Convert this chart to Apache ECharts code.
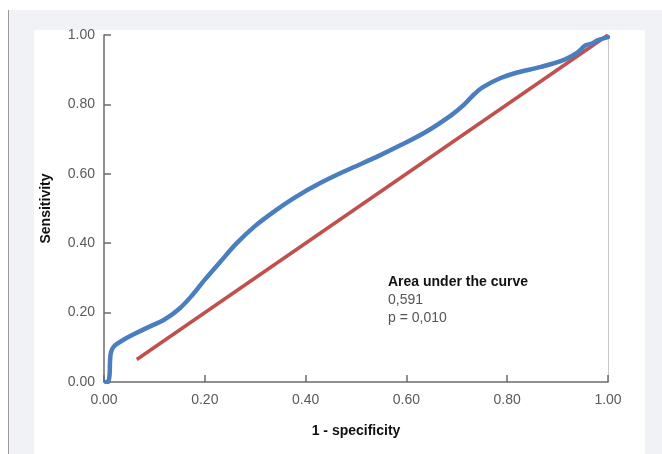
<!DOCTYPE html>
<html>
<head>
<meta charset="utf-8">
<script src="https://cdn.jsdelivr.net/npm/echarts@6/dist/echarts.min.js"></script>
<style>
  html, body { margin: 0; padding: 0; background: #ffffff; }
  #bg { position: absolute; left: 8px; top: 10px; width: 654px; height: 444px; background: #f1f2f6; border-left: 1px solid #9a9a9a; }
  #panel { position: absolute; left: 34px; top: 30px; width: 611px; height: 424px; background: #ffffff; }
  #chart { position: absolute; left: 0; top: 0; width: 662px; height: 454px; }
</style>
</head>
<body>
<div id="bg"></div>
<div id="panel"></div>
<div id="chart"></div>
<script>
// ROC curve: [1 - specificity, sensitivity]
const rocX = [0.004, 0.008, 0.011, 0.012, 0.014, 0.020, 0.038, 0.060, 0.085, 0.120, 0.150, 0.175, 0.200, 0.230, 0.262, 0.300, 0.340, 0.380, 0.430, 0.483, 0.540, 0.588, 0.640, 0.690, 0.715, 0.735, 0.752, 0.787, 0.820, 0.867, 0.915, 0.940, 0.955, 0.968, 0.980, 1.000];
const rocY = [0.000, 0.000, 0.020, 0.060, 0.086, 0.103, 0.121, 0.138, 0.156, 0.180, 0.212, 0.250, 0.295, 0.345, 0.398, 0.450, 0.494, 0.533, 0.574, 0.611, 0.648, 0.682, 0.722, 0.770, 0.800, 0.830, 0.850, 0.876, 0.892, 0.908, 0.930, 0.950, 0.970, 0.975, 0.985, 0.994];
// Reference (diagonal) line
const refX = [0.065, 1.000];
const refY = [0.065, 1.000];
const tickValues = [0, 0.2, 0.4, 0.6, 0.8, 1.0];
const aucTitle = 'Area under the curve';
const aucValue = '0,591';
const pValue = 'p = 0,010';

const chart = echarts.init(document.getElementById('chart'));
const fmt = v => v.toFixed(2);
chart.setOption({
  backgroundColor: 'transparent',
  animation: false,
  grid: { left: 104, right: 54, top: 35, bottom: 72, containLabel: false },
  xAxis: {
    type: 'value', min: 0, max: 1, interval: 0.2,
    name: '1 - specificity', nameLocation: 'middle', nameGap: 42,
    nameTextStyle: { fontFamily: 'Liberation Sans', fontWeight: 'bold', fontSize: 14, color: '#111' },
    axisLine: { show: true, lineStyle: { color: '#6b6b6b', width: 1.5 } },
    axisTick: { show: true, inside: true, length: 7, lineStyle: { color: '#6b6b6b', width: 1.5 } },
    axisLabel: { formatter: fmt, fontFamily: 'Liberation Sans', fontSize: 14, color: '#5a5a5a', margin: 11 },
    splitLine: { show: false }
  },
  yAxis: [{
    type: 'value', min: 0, max: 1, interval: 0.2,
    name: 'Sensitivity', nameLocation: 'middle', nameGap: 51,
    nameTextStyle: { fontFamily: 'Liberation Sans', fontWeight: 'bold', fontSize: 14, color: '#111' },
    axisLine: { show: true, lineStyle: { color: '#6b6b6b', width: 1.5 } },
    axisTick: { show: true, inside: true, length: 7, lineStyle: { color: '#6b6b6b', width: 1.5 } },
    axisLabel: { formatter: fmt, fontFamily: 'Liberation Sans', fontSize: 14, color: '#5a5a5a', margin: 9 },
    splitLine: { show: false }
  }, {
    type: 'value', min: 0, max: 1, position: 'right',
    axisLine: { show: true, lineStyle: { color: '#c8c8c8', width: 1 } },
    axisTick: { show: false }, axisLabel: { show: false }, splitLine: { show: false }
  }],
  series: [{
    type: 'line',
    data: refX.map((x, i) => [x, refY[i]]),
    showSymbol: false,
    lineStyle: { color: '#c0504d', width: 3.5 },
    z: 2
  }, {
    type: 'line',
    data: rocX.map((x, i) => [x, rocY[i]]),
    showSymbol: false,
    smooth: 0.35,
    lineStyle: { color: '#4a7ebf', width: 4.5, cap: 'round', join: 'round' },
    z: 3
  }],
  graphic: [{
    type: 'text', left: 388, top: 275,
    style: { text: aucTitle, fontFamily: 'Liberation Sans', fontWeight: 'bold', fontSize: 14, fill: '#111' }
  }, {
    type: 'text', left: 388, top: 293,
    style: { text: aucValue, fontFamily: 'Liberation Sans', fontSize: 14, fill: '#555' }
  }, {
    type: 'text', left: 388, top: 311,
    style: { text: pValue, fontFamily: 'Liberation Sans', fontSize: 14, fill: '#555' }
  }]
});
</script>
</body>
</html>
